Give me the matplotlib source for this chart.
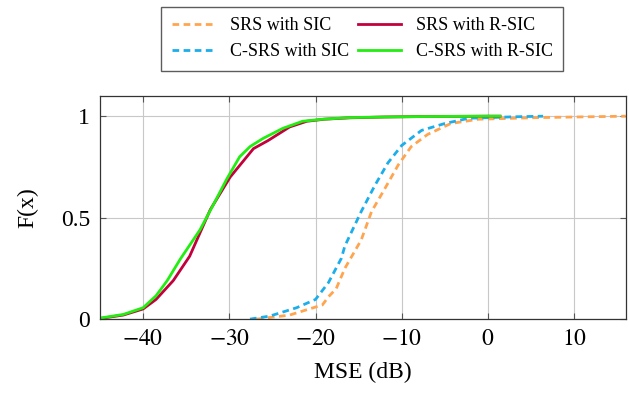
import matplotlib
matplotlib.use('Agg')
import matplotlib.pyplot as plt

plt.rcParams['font.family'] = ['Liberation Serif', 'DejaVu Serif']
plt.rcParams['mathtext.fontset'] = 'stix'

# CDF curves (MSE in dB, F(x))
srs_sic_x = [-26.8, -23.0, -19.2, -18.5, -17.6, -16.6, -14.7, -13.5, -12.0, -10.4, -8.9, -7.0, -4.3, -1.1, 5.7, 16.0]
srs_sic_F = [0.0, 0.02, 0.07, 0.11, 0.15, 0.25, 0.39, 0.53, 0.64, 0.76, 0.85, 0.91, 0.964, 0.985, 0.993, 1.0]

csrs_sic_x = [-27.6, -25.3, -22.2, -20.0, -18.5, -17.0, -16.6, -14.7, -13.1, -11.6, -10.0, -7.7, -5.0, -2.2, 0.2, 3.0, 6.4]
csrs_sic_F = [0.0, 0.015, 0.056, 0.097, 0.18, 0.30, 0.36, 0.53, 0.66, 0.77, 0.856, 0.93, 0.964, 0.99, 0.993, 0.997, 1.0]

srs_rsic_x = [-45, -42.3, -40, -38.5, -36.5, -34.6, -32.2, -29.9, -27.2, -25.5, -23.0, -21, -19, -16, -12, -8, -4, 0, 1.4]
srs_rsic_F = [0.003, 0.02, 0.05, 0.097, 0.19, 0.31, 0.54, 0.70, 0.84, 0.88, 0.947, 0.975, 0.985, 0.992, 0.996, 0.998, 0.999, 1.0, 1.0]

csrs_rsic_x = [-45, -42.3, -40, -38.5, -37.2, -35.7, -33.4, -31.9, -30.3, -28.8, -27.6, -26.1, -23.8, -21.5, -19.2, -16.1, -12, -8, -4, 0, 1.4]
csrs_rsic_F = [0.005, 0.023, 0.056, 0.115, 0.19, 0.295, 0.44, 0.56, 0.69, 0.80, 0.85, 0.89, 0.94, 0.975, 0.985, 0.993, 0.996, 0.998, 0.999, 1.0, 1.0]

xticks = [-40, -30, -20, -10, 0, 10]
xtick_labels = ['$-40$', '$-30$', '$-20$', '$-10$', '$0$', '$10$']
yticks = [0, 0.5, 1]
ytick_labels = ['0', '0.5', '1']

fig = plt.figure(figsize=(6.29, 3.93), dpi=100)
ax = fig.add_axes([0.159, 0.188, 0.836, 0.568])

dash = (0, (2.4, 1.6))
l1, = ax.plot(srs_sic_x, srs_sic_F, color='#FFA54F', lw=2, ls=dash, label='SRS with SIC')
l2, = ax.plot(csrs_sic_x, csrs_sic_F, color='#1CAEEA', lw=2, ls=dash, label='C-SRS with SIC')
l3, = ax.plot(srs_rsic_x, srs_rsic_F, color='#C2003C', lw=2, label='SRS with R-SIC')
l4, = ax.plot(csrs_rsic_x, csrs_rsic_F, color='#22EE11', lw=2, label='C-SRS with R-SIC')

ax.set_xlim(-45, 16)
ax.set_ylim(0, 1.1)
ax.set_xticks(xticks)
ax.set_xticklabels(xtick_labels)
ax.set_yticks(yticks)
ax.set_yticklabels(ytick_labels)
ax.grid(True, color='#C8C8C8', lw=0.8)
ax.set_axisbelow(True)
ax.tick_params(direction='in', top=True, right=True, labelsize=17, length=4, color='#555555')
ax.tick_params(axis='x', pad=7)
ax.tick_params(axis='y', pad=7)
for s in ax.spines.values():
    s.set_color('#333333')
    s.set_linewidth(0.9)

ax.set_xlabel('MSE (dB)', fontsize=17, labelpad=9)
ax.set_ylabel('F(x)', fontsize=17, labelpad=16)

fig.legend(handles=[l1, l2, l3, l4], ncol=2, loc='center', bbox_to_anchor=(0.576, 0.901),
           fontsize=13, frameon=True, fancybox=False, edgecolor='#333333',
           handlelength=2.4, columnspacing=0.5, handletextpad=0.8, borderpad=0.6,
           labelspacing=0.5)

fig.savefig('out.png', dpi=100)
